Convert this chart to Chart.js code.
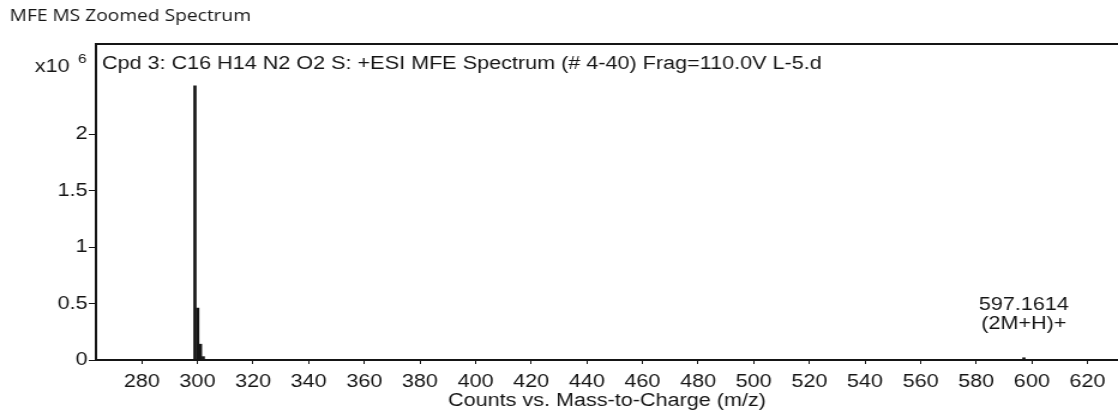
<!DOCTYPE html>
<html>
<head>
<meta charset="utf-8">
<script src="https://cdn.jsdelivr.net/npm/chart.js@4/dist/chart.umd.min.js"></script>
<style>
  html, body { margin: 0; padding: 0; background: #fff; overflow: hidden; }
  #frame { width: 1118px; height: 412px; overflow: hidden; }
  /* The printout is horizontally wide: the plot is drawn at 932px and widened to the page */
  #spectrum { display: block; transform-origin: 0 0; transform: scaleX(1.19957); }
</style>
</head>
<body>
<div id="frame"><canvas id="spectrum" width="932" height="412"></canvas></div>
<script>
// Centroided peaks: m/z and abundance in units of 10^6 counts
const peakMz = [299.0740, 300.0770, 301.0720, 302.0760, 597.1614];
const peakCounts = [2.43, 0.46, 0.14, 0.03, 0.02];

// Axis ticks
const xTicks = [280, 300, 320, 340, 360, 380, 400, 420, 440, 460, 480, 500, 520, 540, 560, 580, 600, 620];
const yTicks = [0, 0.5, 1, 1.5, 2];

// Texts
const chartTitle = 'MFE MS Zoomed Spectrum';
const spectrumTitle = 'Cpd 3: C16 H14 N2 O2 S: +ESI MFE Spectrum (# 4-40) Frag=110.0V L-5.d';
const xAxisTitle = 'Counts vs. Mass-to-Charge (m/z)';
const yExponent = ['x10', '6'];
const labelledMz = 597.1614;
const peakLabel = ['597.1614', '(2M+H)+'];

const INK = '#151515';
const FONT = '"Liberation Sans", Arial, sans-serif';

// Frame top edge, titles and the peak annotation
const decorations = {
  id: 'decorations',
  afterDraw(chart) {
    const { ctx, chartArea: a, scales: { x, y } } = chart;
    ctx.save();
    ctx.strokeStyle = INK;
    ctx.lineWidth = 2;
    ctx.beginPath();
    ctx.moveTo(a.left - 1, a.top);
    ctx.lineTo(a.right, a.top);
    ctx.stroke();

    ctx.fillStyle = INK;
    ctx.textBaseline = 'alphabetic';
    ctx.textAlign = 'left';
    ctx.font = '16px "Open Sans", sans-serif';
    ctx.fillText(chartTitle, 8, 21);

    ctx.font = '18px ' + FONT;
    ctx.fillText(spectrumTitle, a.left + 5, a.top + 25);

    ctx.textAlign = 'right';
    ctx.fillText(yExponent[0], a.left - 22, a.top + 28);
    ctx.font = '13px ' + FONT;
    ctx.textAlign = 'left';
    ctx.fillText(yExponent[1], a.left - 15, a.top + 19);

    ctx.font = '18px ' + FONT;
    ctx.textAlign = 'center';
    const px = x.getPixelForValue(labelledMz);
    const i = peakMz.indexOf(labelledMz);
    const py = y.getPixelForValue(peakCounts[i]);
    ctx.fillText(peakLabel[0], px, py - 48);
    ctx.fillText(peakLabel[1], px, py - 29);

    ctx.fillText(xAxisTitle, (a.left + a.right) / 2, chart.height - 6);
    ctx.restore();
  }
};

new Chart(document.getElementById('spectrum'), {
  type: 'bar',
  data: {
    datasets: [{
      data: peakMz.map((m, i) => ({ x: m, y: peakCounts[i] })),
      backgroundColor: INK,
      borderWidth: 0,
      barThickness: 2,
      grouped: false
    }]
  },
  options: {
    responsive: false,
    animation: false,
    devicePixelRatio: 1,
    layout: { padding: { top: 44, left: 0, right: 0, bottom: 0 } },
    plugins: { legend: { display: false }, tooltip: { enabled: false }, title: { display: false } },
    scales: {
      x: {
        type: 'linear',
        offset: false,
        min: 263.5,
        max: 631,
        afterBuildTicks(s) { s.ticks = xTicks.map(v => ({ value: v })); },
        afterFit(s) { s.height = 52; },
        ticks: { color: INK, font: { family: FONT, size: 18 }, maxRotation: 0, autoSkip: false, padding: 7 },
        grid: { display: true, offset: false, drawOnChartArea: false, color: INK, tickLength: 4 },
        border: { color: INK, width: 2 }
      },
      y: {
        min: 0,
        max: 2.8,
        afterBuildTicks(s) { s.ticks = yTicks.map(v => ({ value: v })); },
        afterFit(s) { s.width = 80; },
        ticks: { color: INK, font: { family: FONT, size: 18 }, padding: 1, callback: v => String(v) },
        grid: { display: true, drawOnChartArea: false, color: INK, tickLength: 6 },
        border: { color: INK, width: 2 }
      }
    }
  },
  plugins: [decorations]
});
</script>
</body>
</html>
